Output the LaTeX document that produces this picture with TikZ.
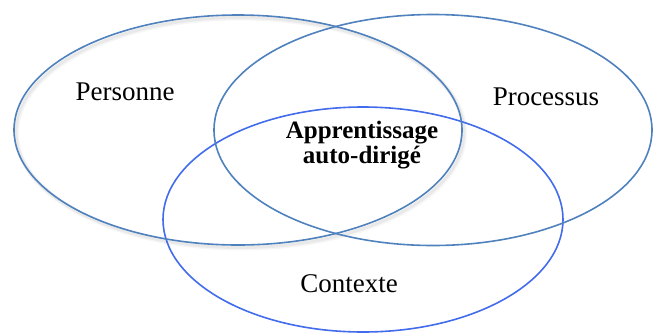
\documentclass[tikz,border=0pt]{standalone}
\usepackage{fontspec}
\setmainfont{Liberation Serif}
\definecolor{ringblue}{RGB}{79,129,189}
\definecolor{ctxblue}{RGB}{66,108,235}
\begin{document}
\begin{tikzpicture}[x=1pt,y=-1pt,
  ring/.style={line width=1.6pt},
  halo/.style={draw=black,line width=3pt,opacity=0.05},
  label/.style={font=\fontsize{27}{30}\selectfont,anchor=base,inner sep=0pt},
  core/.style={font=\bfseries\fontsize{25}{25}\selectfont,align=center,inner sep=0pt}]
  \useasboundingbox (0,0) rectangle (653,333);
  % soft shadow along the Personne ring
  \draw[halo] (240,132.5) ellipse [x radius=224, y radius=115];
  \draw[halo,line width=5pt,opacity=0.035] (240.5,133) ellipse [x radius=224, y radius=115];
  % the three sets
  \draw[ring,draw=ctxblue] (363,219.5) ellipse [x radius=200, y radius=112.5];
  \draw[ring,draw=ringblue] (433,130) ellipse [x radius=219, y radius=115.5];
  \draw[ring,draw=ringblue] (238,130) ellipse [x radius=224, y radius=115];
  % labels
  \node[label] (personne) at (125,100) {Personne};
  \node[label] (processus) at (546,105) {Processus};
  \node[label] (contexte) at (349,292) {Contexte};
  \node[core,anchor=base] (asd) at (362,163) {Apprentissage\\auto-dirigé};
\end{tikzpicture}
\end{document}
